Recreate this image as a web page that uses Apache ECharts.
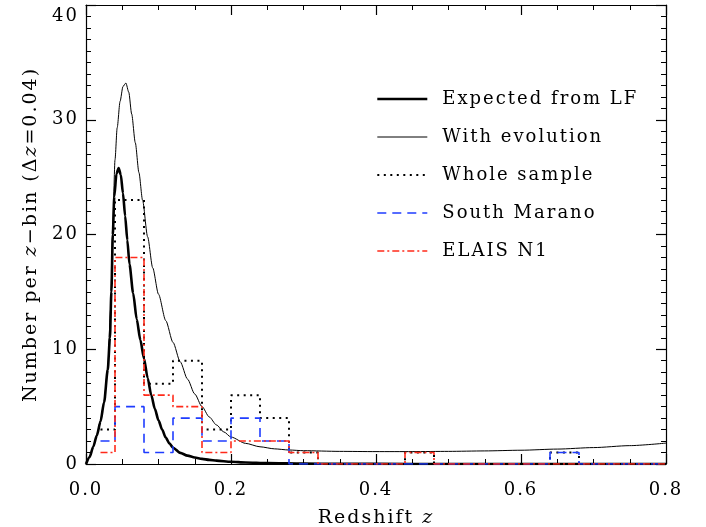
<!DOCTYPE html>
<html>
<head>
<meta charset="utf-8">
<script src="https://cdn.jsdelivr.net/npm/echarts@6/dist/echarts.min.js"></script>
<style>html,body{margin:0;padding:0;background:#fff;overflow:hidden}#c{width:706px;height:527px}</style>
</head>
<body>
<div id="c"></div>
<script>
// Histogram bins (width 0.04, from z=0.00 to 0.80)
const binWidth = 0.04;
const wholeSample = [3,23,7,9,3,6,4,1,0,0,0,1,0,0,0,0,1,0,0,0];
const southMarano = [2,5,1,4,2,4,2,0,0,0,0,0,0,0,0,0,1,0,0,0];
const elaisN1     = [1,18,6,5,1,2,2,1,0,0,0,1,0,0,0,0,0,0,0,0];

// Model curves [z, N]
const expectedLF = [[0,0],[0.005,0.6],[0.01,1.5],[0.015,2.5],[0.02,3.7],[0.025,5.4],[0.03,8.2],[0.033,11],[0.035,15],[0.037,20],[0.039,23.3],[0.042,25.3],[0.045,25.8],[0.048,25.2],[0.051,23.6],[0.054,21.6],[0.057,19.5],[0.06,17.4],[0.065,14.9],[0.07,12.6],[0.075,10.8],[0.08,9.2],[0.085,7.5],[0.09,6.0],[0.095,4.8],[0.1,3.8],[0.105,3.0],[0.11,2.3],[0.115,1.8],[0.12,1.42],[0.13,0.97],[0.14,0.73],[0.15,0.57],[0.16,0.45],[0.17,0.36],[0.18,0.29],[0.2,0.19],[0.22,0.13],[0.25,0.075],[0.3,0.035],[0.35,0.015],[0.4,0.008],[0.5,0],[0.8,0]];
const withEvolution = [[0,0],[0.005,0.6],[0.01,1.5],[0.015,2.5],[0.02,3.8],[0.025,5.5],[0.03,8.4],[0.034,13.5],[0.037,21],[0.04,26.5],[0.043,29.3],[0.047,31.6],[0.051,32.9],[0.055,33.2],[0.059,32.4],[0.063,30.5],[0.068,28],[0.073,25.4],[0.078,23],[0.085,19.8],[0.092,17.1],[0.1,14.8],[0.11,12.5],[0.12,10.6],[0.13,8.9],[0.14,7.4],[0.15,6.1],[0.16,5.0],[0.17,4.1],[0.18,3.4],[0.19,2.8],[0.2,2.35],[0.22,1.8],[0.24,1.5],[0.26,1.32],[0.28,1.22],[0.3,1.16],[0.35,1.1],[0.4,1.08],[0.45,1.08],[0.5,1.1],[0.55,1.14],[0.6,1.2],[0.65,1.3],[0.7,1.43],[0.75,1.6],[0.8,1.82]];

// Axis ticks
const xTicks = [0.0,0.2,0.4,0.6,0.8];
const yTicks = [0,10,20,30,40];

const names = ['Expected from LF','With evolution','Whole sample','South Marano','ELAIS N1'];

function steps(vals){
  const pts = [];
  vals.forEach((v,i)=>{
    let lo = i*binWidth, hi = (i+1)*binWidth;
    if(i===0) lo = binWidth/2;
    pts.push([+lo.toFixed(4), v],[+hi.toFixed(4), v]);
  });
  return pts;
}

// wider letter spacing, like the original plotting font
(function(){
  const P = window.CanvasRenderingContext2D && CanvasRenderingContext2D.prototype;
  if(!P || !('letterSpacing' in P)) return;
  const LS = '2px';
  const ft = P.fillText, st = P.strokeText, mt = P.measureText;
  P.fillText = function(){ this.letterSpacing = LS; return ft.apply(this, arguments); };
  P.strokeText = function(){ this.letterSpacing = LS; return st.apply(this, arguments); };
  P.measureText = function(){ this.letterSpacing = LS; return mt.apply(this, arguments); };
})();

const FONT = 'DejaVu Serif';
const chart = echarts.init(document.getElementById('c'));
const axisLine = {show:true,onZero:false,lineStyle:{color:'#000',width:1.2}};
const axisTick = {show:true,inside:true,length:10,lineStyle:{color:'#000',width:1.2}};
const italic = {fontSize:19,fontFamily:FONT,fontStyle:'italic',color:'#000'};
chart.setOption({
  animation:false,
  backgroundColor:'#fff',
  grid:{left:86,right:40,top:5,bottom:63,containLabel:false,outerBoundsMode:'none'},
  legend:{
    orient:'vertical', left:376, top:89, padding:0, itemWidth:50, itemHeight:14, itemGap:18,
    itemStyle:{opacity:0,borderWidth:0},
    lineStyle:{width:'inherit'},
    textStyle:{fontSize:18,fontFamily:FONT,color:'#000',padding:[0,0,0,10]},
    data:names
  },
  xAxis:[
    {type:'value',min:xTicks[0],max:xTicks[xTicks.length-1],interval:0.2,position:'bottom',
      axisLine:axisLine,axisTick:axisTick,splitLine:{show:false},
      minorTick:{show:true,splitNumber:4,length:5,lineStyle:{color:'#000',width:1}},
      axisLabel:{fontSize:18,fontFamily:FONT,color:'#000',margin:16,formatter:v=>v.toFixed(1)},
      name:'Redshift {i|z}',nameLocation:'middle',nameGap:44,
      nameTextStyle:{fontSize:19,fontFamily:FONT,color:'#000',rich:{i:italic}}
    },
    {type:'value',min:0,max:0.8,interval:0.2,position:'top',
      axisLine:axisLine,axisTick:axisTick,splitLine:{show:false},
      minorTick:{show:true,splitNumber:4,length:5,lineStyle:{color:'#000',width:1}},
      axisLabel:{show:false}}
  ],
  yAxis:[
    {type:'value',min:yTicks[0],max:yTicks[yTicks.length-1],interval:10,position:'left',
      axisLine:axisLine,axisTick:axisTick,splitLine:{show:false},
      minorTick:{show:true,splitNumber:10,length:5,lineStyle:{color:'#000',width:1}},
      axisLabel:{fontSize:18,fontFamily:FONT,color:'#000',margin:7,
        formatter:v=> v===40 ? '{t|40}' : String(v),
        rich:{t:{fontSize:18,fontFamily:FONT,color:'#000',padding:[22,0,0,0]}}},
      name:'Number per {i|z}\u2212bin (\u0394{i|z}=0.04)',nameLocation:'middle',nameGap:44,
      nameTextStyle:{fontSize:19,fontFamily:FONT,color:'#000',rich:{i:italic}}
    },
    {type:'value',min:0,max:40,interval:10,position:'right',
      axisLine:axisLine,axisTick:axisTick,splitLine:{show:false},
      minorTick:{show:true,splitNumber:10,length:5,lineStyle:{color:'#000',width:1}},
      axisLabel:{show:false}}
  ],
  series:[
    {name:names[0],type:'line',data:expectedLF,symbol:'none',smooth:0.25,smoothMonotone:'x',
      lineStyle:{color:'#000',width:2.6},itemStyle:{color:'#000'},z:2},
    {name:names[1],type:'line',data:withEvolution,symbol:'none',smooth:0.25,smoothMonotone:'x',
      lineStyle:{color:'#000',width:1},itemStyle:{color:'#000'},z:2},
    {name:names[2],type:'line',data:steps(wholeSample),symbol:'none',
      lineStyle:{color:'#000',width:2,type:[2,4.5]},itemStyle:{color:'#000'},z:3},
    {name:names[3],type:'line',data:steps(southMarano),symbol:'none',
      lineStyle:{color:'#1f3cff',width:1.6,type:[9,6]},itemStyle:{color:'#1f3cff'},z:4},
    {name:names[4],type:'line',data:steps(elaisN1),symbol:'none',
      lineStyle:{color:'#ff2a1a',width:1.6,type:[7,3,2,3]},itemStyle:{color:'#ff2a1a'},z:5}
  ]
});
</script>
</body>
</html>
